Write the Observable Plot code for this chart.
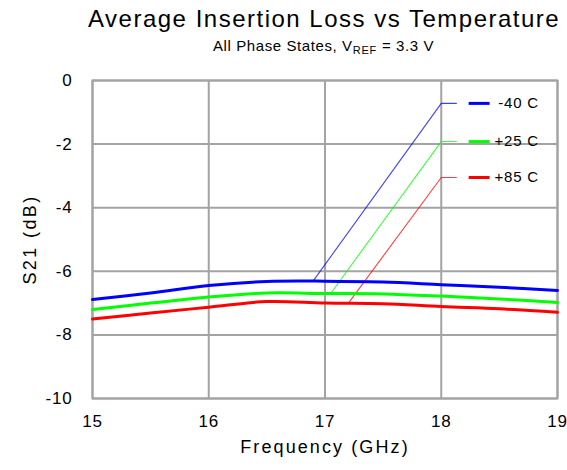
<!DOCTYPE html>
<html>
<head>
<meta charset="utf-8">
<script src="https://cdn.jsdelivr.net/npm/d3@7"></script>
<script src="https://cdn.jsdelivr.net/npm/@observablehq/plot@0.6"></script>
<style>
  html, body { margin: 0; padding: 0; background: #fff; }
  body { width: 567px; height: 470px; overflow: hidden; font-family: "Liberation Sans", Arial, sans-serif; }
  #title { position: absolute; top: 5px; left: 88px; width: 465px; text-align: center; font-size: 24px; letter-spacing: 1.5px; color: #000; line-height: 28px; white-space: nowrap; }
  #subtitle { position: absolute; top: 37px; left: 91px; width: 465px; text-align: center; font-size: 15px; letter-spacing: 0.6px; color: #000; line-height: 18px; white-space: nowrap; }
  #subtitle sub { font-size: 11px; vertical-align: -3px; line-height: 0; letter-spacing: 0.8px; }
  #chart { position: absolute; top: 55px; left: 0; }
</style>
</head>
<body>
<div id="title">Average Insertion Loss vs Temperature</div>
<div id="subtitle">All Phase States, V<sub>REF</sub> = 3.3 V</div>
<div id="chart"></div>
<script>
const freq = [15, 15.5, 16, 16.5, 17, 17.5, 18, 18.5, 19];
const sM40 = [-6.89, -6.68, -6.45, -6.32, -6.31, -6.34, -6.42, -6.50, -6.60];
const sP25 = [-7.20, -7.00, -6.81, -6.68, -6.70, -6.71, -6.78, -6.87, -6.98];
const sP85 = [-7.50, -7.31, -7.13, -6.95, -7.00, -7.02, -7.11, -7.18, -7.29];
const seriesNames = ["-40 C", "+25 C", "+85 C"];
const seriesColors = ["#0000ff", "#00ff00", "#ff0000"];
const xTicks = [15, 16, 17, 18, 19];
const yTicks = [0, -2, -4, -6, -8, -10];
// legend leader lines (data units): start on curve, end at legend row
const leaderStartX = [16.905, 17.05, 17.2];
const leaderStartY = [-6.27, -6.69, -7.01];
const leaderEndX = [18.0, 18.0, 18.0];
const legendY = [-0.72, -1.92, -3.05];
const legendStubX = [18.13, 18.13, 18.13];
const legendDashX1 = [18.24, 18.24, 18.24];
const legendDashX2 = [18.42, 18.42, 18.42];
const legendLabelX = [18.84, 18.84, 18.84];

const allSeries = [sM40, sP25, sP85];
const lineData = allSeries.flatMap((vals, i) => vals.map((v, j) => ({x: freq[j], y: v, s: seriesNames[i]})));
const leaders = seriesNames.map((s, i) => ({s,
  pts: [[leaderStartX[i], leaderStartY[i]], [leaderEndX[i], legendY[i]], [legendStubX[i], legendY[i]]]}));
const leaderData = leaders.flatMap(d => d.pts.map(p => ({x: p[0], y: p[1], s: d.s})));
const legendRows = seriesNames.map((s, i) => ({s, x1: legendDashX1[i], x2: legendDashX2[i], y: legendY[i], lx: legendLabelX[i]}));

const color = {domain: seriesNames, range: seriesColors};
const gridColor = "#a3a3a3";

const plot = Plot.plot({
  width: 567,
  height: 415,
  marginTop: 25,
  marginBottom: 72,
  marginLeft: 92,
  marginRight: 10,
  style: {fontFamily: "'Liberation Sans', Arial, sans-serif", fontSize: "17px", color: "#000", background: "#fff", overflow: "visible"},
  x: {domain: [15, 19], ticks: xTicks, label: null},
  y: {domain: [-10, 0], ticks: yTicks, label: null},
  color,
  marks: [
    Plot.gridX(xTicks, {stroke: gridColor, strokeOpacity: 1, strokeWidth: 2}),
    Plot.gridY(yTicks, {stroke: gridColor, strokeOpacity: 1, strokeWidth: 2}),
    Plot.frame({stroke: gridColor, strokeWidth: 2}),
    Plot.axisX(xTicks, {tickSize: 0, tickPadding: 16, fontSize: 17, label: null, tickFormat: d => String(d)}),
    Plot.axisY(yTicks, {tickSize: 0, tickPadding: 20, fontSize: 17, label: null, tickFormat: d => String(d).replace("\u2212", "-")}),
    Plot.line(leaderData, {x: "x", y: "y", z: "s", stroke: "s", strokeWidth: 1.1, strokeOpacity: 0.75}),
    Plot.line(lineData, {x: "x", y: "y", z: "s", stroke: "s", strokeWidth: 3, curve: "catmull-rom"}),
    Plot.ruleY(legendRows, {x1: "x1", x2: "x2", y: "y", stroke: "s", strokeWidth: 3}),
    Plot.text(legendRows, {x: "lx", y: "y", text: "s", textAnchor: "end", fontSize: 15, fill: "#000"}),
    Plot.text(["Frequency (GHz)"], {frameAnchor: "bottom", dy: 54, fontSize: 18, fill: "#000"}),
    Plot.text(["S21 (dB)"], {frameAnchor: "left", dx: -62, rotate: -90, textAnchor: "middle", fontSize: 18, fill: "#000"})
  ]
});
const spacing = new Map([["Frequency (GHz)", "2.1px"], ["S21 (dB)", "2.4px"]]);
seriesNames.forEach(s => spacing.set(s, "0.8px"));
d3.select(plot).selectAll("text").each(function() {
  const t = this.textContent;
  if (spacing.has(t)) this.style.letterSpacing = spacing.get(t);
  else if (/^-?\d+$/.test(t)) this.style.letterSpacing = "0.8px";
});
document.getElementById("chart").appendChild(plot);
</script>
</body>
</html>
